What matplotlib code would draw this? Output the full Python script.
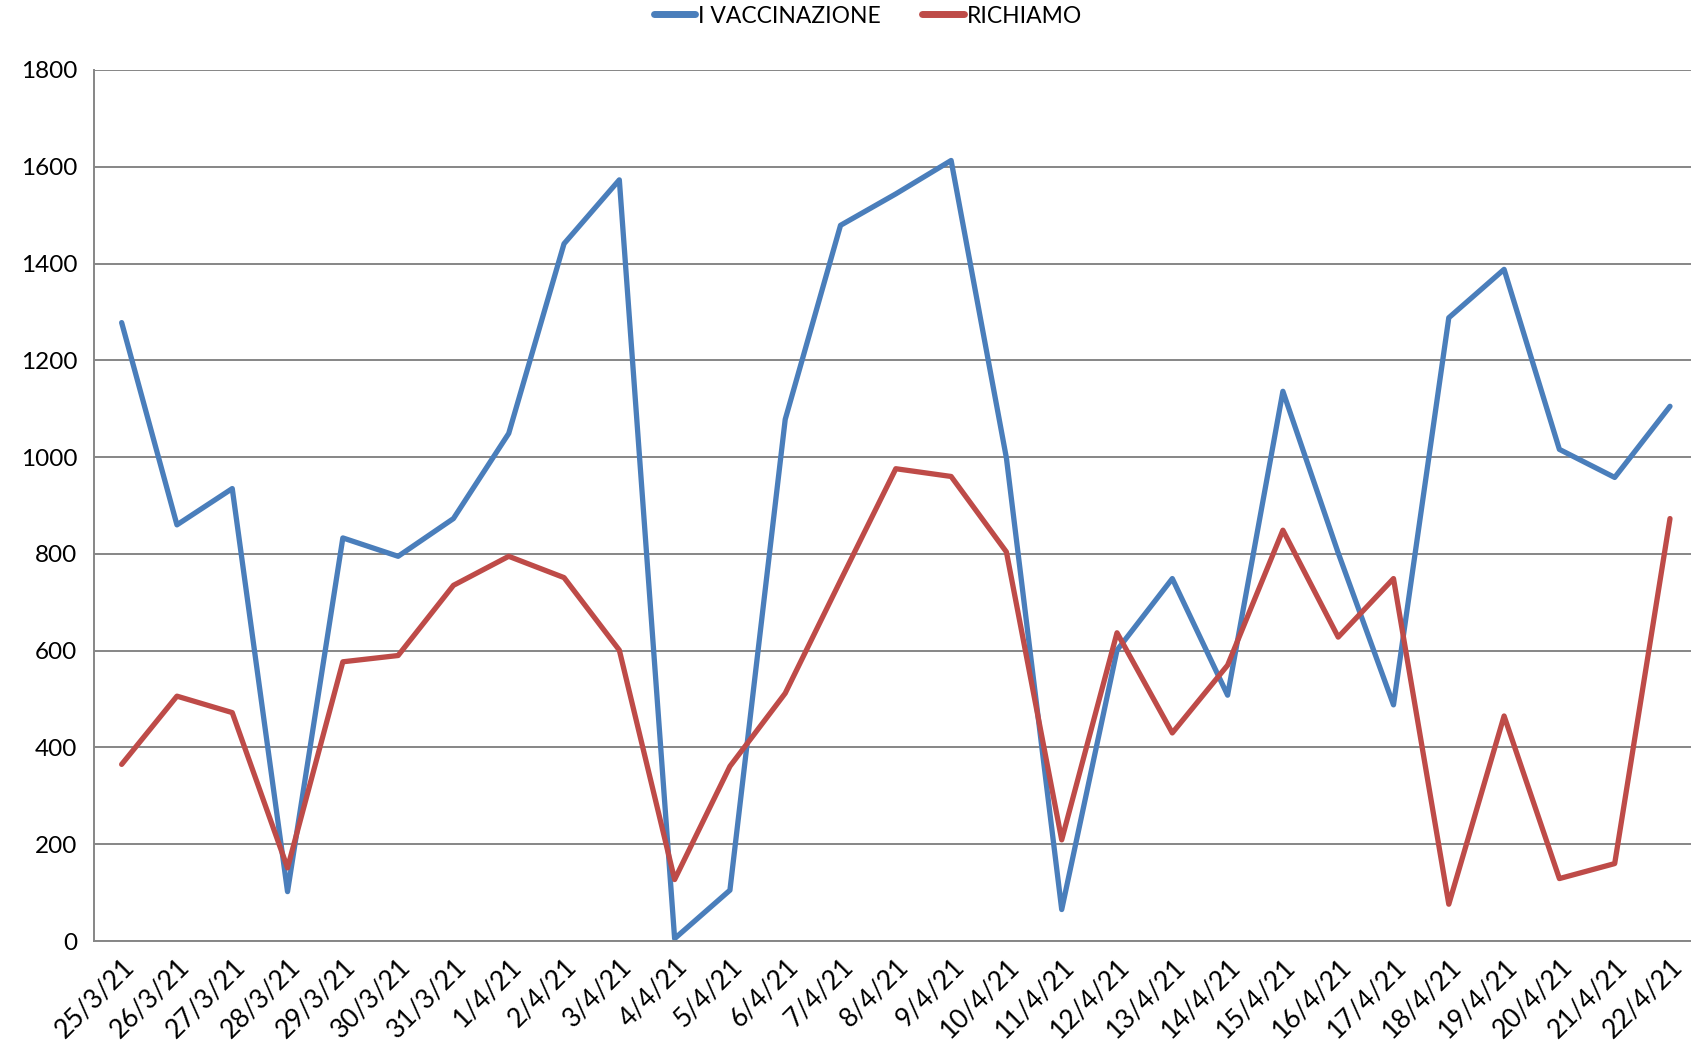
import numpy as np
import matplotlib
matplotlib.use("Agg")
import matplotlib.pyplot as plt

plt.rcParams['font.family'] = ['Lato', 'DejaVu Sans']

dates = ['25/3/21', '26/3/21', '27/3/21', '28/3/21', '29/3/21', '30/3/21', '31/3/21',
         '1/4/21', '2/4/21', '3/4/21', '4/4/21', '5/4/21', '6/4/21', '7/4/21', '8/4/21',
         '9/4/21', '10/4/21', '11/4/21', '12/4/21', '13/4/21', '14/4/21', '15/4/21',
         '16/4/21', '17/4/21', '18/4/21', '19/4/21', '20/4/21', '21/4/21', '22/4/21']

prima = [1278, 860, 935, 102, 833, 795, 873, 1049, 1441, 1573, 5, 105, 1078, 1479,
         1544, 1613, 998, 65, 601, 749, 508, 1136, 802, 488, 1288, 1388, 1016, 958, 1105]

richiamo = [365, 506, 472, 151, 577, 590, 735, 795, 751, 601, 127, 361, 512, 745,
            976, 960, 804, 209, 637, 430, 570, 849, 628, 749, 76, 465, 129, 160, 873]

W, H = 1691, 1040
fig = plt.figure(figsize=(W / 100, H / 100), dpi=100)
# axes box in pixels: left 94, right 1691, top 70, bottom 941
ax = fig.add_axes([94 / W, 1 - 941 / H, (W - 94) / W, (941 - 70) / H])

x = np.arange(len(dates))
ax.plot(x, prima, color='#4A7EBB', lw=3.8, label='I VACCINAZIONE',
        solid_joinstyle='round', solid_capstyle='round')
ax.plot(x, richiamo, color='#BE4B48', lw=3.8, label='RICHIAMO',
        solid_joinstyle='round', solid_capstyle='round')

ax.set_ylim(0, 1800)
ax.set_yticks(np.arange(0, 1801, 200))
ax.set_xlim(-0.5, 28.38)
ax.set_xticks(x)
ax.set_xticklabels(dates, rotation=45, ha='right', rotation_mode='anchor')
ax.tick_params(axis='x', length=0, labelsize=19, pad=9)
ax.tick_params(axis='y', length=0, labelsize=17.5, pad=12)

ax.grid(axis='y', color='#868686', lw=1.4)
ax.set_axisbelow(True)
for s in ['top', 'right']:
    ax.spines[s].set_visible(False)
ax.spines['left'].set_color('#868686')
ax.spines['left'].set_linewidth(1.4)
ax.spines['bottom'].set_color('#868686')
ax.spines['bottom'].set_linewidth(1.4)

leg = fig.legend(loc='center', bbox_to_anchor=(868 / W, 1 - 16 / H), ncol=2, frameon=False,
                 fontsize=16.5, handlelength=1.8, columnspacing=1.8, handletextpad=0.15)
for h in leg.legend_handles:
    h.set_linewidth(5)

fig.savefig('out.png', dpi=100)
